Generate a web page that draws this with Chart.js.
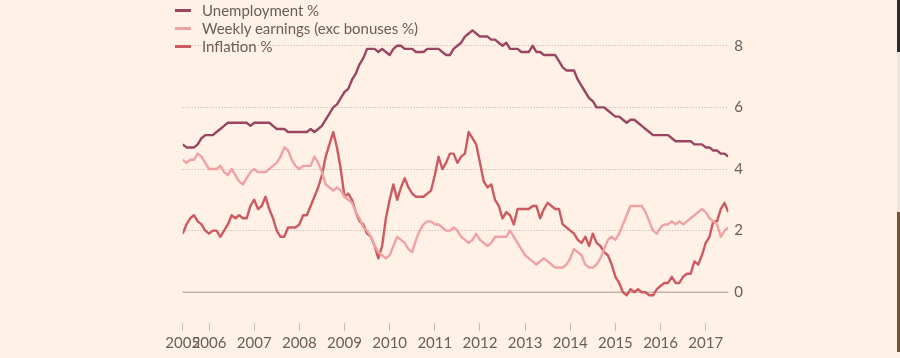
<!DOCTYPE html>
<html>
<head>
<meta charset="utf-8">
<script src="https://cdn.jsdelivr.net/npm/chart.js@4/dist/chart.umd.min.js"></script>
<style>
  html, body { margin:0; padding:0; background:#fff1e5; }
  #wrap { position:relative; width:900px; height:358px; background:#fff1e5; overflow:hidden; }
  #legend { position:absolute; left:175px; top:0; font-family:Lato, "Open Sans", sans-serif; font-size:15px; color:#66605c; }
  #legend div { position:absolute; left:0; white-space:nowrap; height:18px; line-height:18px; }
  #legend span.sw { position:absolute; left:0; top:8px; width:16px; height:3px; }
  #legend span.tx { position:absolute; left:27px; top:0; }
  .edge { position:absolute; left:897px; width:3px; }
</style>
</head>
<body>
<div id="wrap">
  <canvas id="ukChart" width="900" height="358"></canvas>
  <div id="legend"></div>
  <div class="edge" style="top:0;height:52px;background:#2e2a28"></div>
  <div class="edge" style="top:52px;height:160px;background:#efe6dd"></div>
  <div class="edge" style="top:212px;height:140px;background:#7a5535"></div>
</div>
<script>
// monthly, Jun 2005 - Jul 2017
var startYear = 2005, startMonth = 6;
var yearTicks = [2006, 2007, 2008, 2009, 2010, 2011, 2012, 2013, 2014, 2015, 2016, 2017];
var yTicks = [0, 2, 4, 6, 8];

var unemployment = [
  4.8, 4.7, 4.7, 4.7, 4.8, 5.0, 5.1, 5.1, 5.1, 5.2, 5.3, 5.4,
  5.5, 5.5, 5.5, 5.5, 5.5, 5.5, 5.4, 5.5, 5.5, 5.5, 5.5, 5.5,
  5.4, 5.3, 5.3, 5.3, 5.2, 5.2, 5.2, 5.2, 5.2, 5.2, 5.3, 5.2,
  5.3, 5.4, 5.6, 5.8, 6.0, 6.1, 6.3, 6.5, 6.6, 6.9, 7.1, 7.4,
  7.6, 7.9, 7.9, 7.9, 7.8, 7.9, 7.8, 7.7, 7.9, 8.0, 8.0, 7.9,
  7.9, 7.9, 7.8, 7.8, 7.8, 7.9, 7.9, 7.9, 7.9, 7.8, 7.7, 7.7,
  7.9, 8.0, 8.1, 8.3, 8.4, 8.5, 8.4, 8.3, 8.3, 8.3, 8.2, 8.2,
  8.1, 8.0, 8.1, 7.9, 7.9, 7.9, 7.8, 7.8, 7.8, 8.0, 7.8, 7.8,
  7.7, 7.7, 7.7, 7.7, 7.5, 7.3, 7.2, 7.2, 7.2, 6.9, 6.7, 6.5,
  6.3, 6.2, 6.0, 6.0, 6.0, 5.9, 5.8, 5.7, 5.7, 5.6, 5.5, 5.6,
  5.6, 5.5, 5.4, 5.3, 5.2, 5.1, 5.1, 5.1, 5.1, 5.1, 5.0, 4.9,
  4.9, 4.9, 4.9, 4.9, 4.8, 4.8, 4.8, 4.7, 4.7, 4.6, 4.6, 4.5,
  4.5, 4.4
];

var earnings = [
  4.3, 4.2, 4.3, 4.3, 4.5, 4.4, 4.2, 4.0, 4.0, 4.0, 4.1, 3.9,
  3.8, 4.0, 3.8, 3.6, 3.5, 3.7, 3.9, 4.0, 3.9, 3.9, 3.9, 4.0,
  4.1, 4.2, 4.4, 4.7, 4.6, 4.3, 4.1, 4.0, 4.1, 4.1, 4.1, 4.4,
  4.2, 3.9, 3.5, 3.4, 3.3, 3.4, 3.3, 3.1, 3.0, 2.9, 2.6, 2.4,
  2.1, 2.0, 1.8, 1.5, 1.3, 1.2, 1.1, 1.2, 1.5, 1.8, 1.7, 1.6,
  1.4, 1.3, 1.7, 2.0, 2.2, 2.3, 2.3, 2.2, 2.2, 2.1, 2.0, 2.0,
  2.1, 2.0, 1.8, 1.7, 1.6, 1.7, 1.9, 1.7, 1.6, 1.5, 1.6, 1.8,
  1.8, 1.8, 1.8, 2.0, 1.8, 1.6, 1.4, 1.2, 1.1, 1.0, 0.9, 1.0,
  1.1, 1.0, 0.9, 0.8, 0.8, 0.8, 0.9, 1.1, 1.4, 1.3, 1.2, 0.9,
  0.8, 0.8, 0.9, 1.1, 1.4, 1.7, 1.8, 1.7, 1.9, 2.2, 2.5, 2.8,
  2.8, 2.8, 2.8, 2.6, 2.3, 2.0, 1.9, 2.1, 2.2, 2.2, 2.3, 2.2,
  2.3, 2.2, 2.3, 2.4, 2.5, 2.6, 2.7, 2.6, 2.4, 2.3, 2.2, 1.8,
  2.0, 2.1
];

var inflation = [
  1.9, 2.2, 2.4, 2.5, 2.3, 2.2, 2.0, 1.9, 2.0, 2.0, 1.8, 2.0,
  2.2, 2.5, 2.4, 2.5, 2.4, 2.4, 2.8, 3.0, 2.7, 2.8, 3.1, 2.7,
  2.4, 2.0, 1.8, 1.8, 2.1, 2.1, 2.1, 2.2, 2.5, 2.5, 2.8, 3.1,
  3.4, 3.8, 4.4, 4.8, 5.2, 4.7, 4.0, 3.1, 3.2, 3.0, 2.6, 2.3,
  2.2, 1.9, 1.8, 1.5, 1.1, 1.5, 2.4, 3.0, 3.5, 3.0, 3.4, 3.7,
  3.4, 3.2, 3.1, 3.1, 3.1, 3.2, 3.3, 3.8, 4.4, 4.0, 4.2, 4.5,
  4.5, 4.2, 4.4, 4.5, 5.2, 5.0, 4.8, 4.2, 3.6, 3.4, 3.5, 3.0,
  2.8, 2.4, 2.6, 2.5, 2.2, 2.7, 2.7, 2.7, 2.7, 2.8, 2.8, 2.4,
  2.7, 2.9, 2.8, 2.7, 2.7, 2.2, 2.1, 2.0, 1.9, 1.7, 1.6, 1.8,
  1.5, 1.9, 1.6, 1.5, 1.3, 1.2, 0.9, 0.5, 0.3, 0.0, -0.1, 0.1,
  0.0, 0.1, 0.0, 0.0, -0.1, -0.1, 0.1, 0.2, 0.3, 0.3, 0.5, 0.3,
  0.3, 0.5, 0.6, 0.6, 1.0, 0.9, 1.2, 1.6, 1.8, 2.3, 2.3, 2.7,
  2.9, 2.6
];

var names = ['Unemployment %', 'Weekly earnings (exc bonuses %)', 'Inflation %'];
var colours = ['#9a4662', '#f0a2a2', '#cc5a60'];

// x positions as decimal years
function toPoints(vals) {
  return vals.map(function (v, i) {
    return { x: startYear + (startMonth - 1 + i) / 12, y: v };
  });
}
var xStart = startYear + (startMonth - 1) / 12;
var xEnd = xStart + (unemployment.length - 1) / 12;

// html legend
var legend = document.getElementById('legend');
names.forEach(function (n, i) {
  var row = document.createElement('div');
  row.style.top = (1 + i * 18) + 'px';
  row.innerHTML = '<span class="sw" style="background:' + colours[i] + '"></span><span class="tx">' + n + '</span>';
  legend.appendChild(row);
});

// solid zero line over the dotted grid
var zeroLine = {
  id: 'zeroLine',
  beforeDatasetsDraw: function (chart) {
    var y = chart.scales.y.getPixelForValue(0);
    var ctx = chart.ctx;
    ctx.save();
    ctx.strokeStyle = '#c4b3a5';
    ctx.lineWidth = 1.5;
    ctx.beginPath();
    ctx.moveTo(chart.chartArea.left, y);
    ctx.lineTo(chart.chartArea.right, y);
    ctx.stroke();
    ctx.restore();
  }
};

var ctx = document.getElementById('ukChart').getContext('2d');
var ukChart = new Chart(ctx, {
  type: 'line',
  data: {
    datasets: [
      { label: names[0], data: toPoints(unemployment), borderColor: colours[0] },
      { label: names[1], data: toPoints(earnings), borderColor: colours[1] },
      { label: names[2], data: toPoints(inflation), borderColor: colours[2] }
    ]
  },
  options: {
    responsive: false,
    animation: false,
    parsing: false,
    elements: {
      line: { borderWidth: 2.4, tension: 0, borderJoinStyle: 'round' },
      point: { radius: 0 }
    },
    layout: { padding: { left: 182.7, right: 131.7, top: 13, bottom: 0 } },
    plugins: {
      legend: { display: false },
      tooltip: { enabled: false }
    },
    scales: {
      x: {
        type: 'linear',
        min: xStart,
        max: xEnd,
        afterBuildTicks: function (scale) {
          scale.ticks = [{ value: xStart }].concat(yearTicks.map(function (y) { return { value: y }; }));
        },
        afterFit: function (scale) { scale.height = 35; },
        grid: { drawOnChartArea: false, drawTicks: true, tickLength: 8, color: '#c9beb4', lineWidth: 1 },
        border: { display: false },
        ticks: {
          autoSkip: false,
          maxRotation: 0,
          padding: 3,
          color: '#66605c',
          font: { family: 'Lato', size: 15 },
          callback: function (v) { return Math.floor(v); }
        }
      },
      y: {
        position: 'right',
        min: -1,
        max: 9,
        afterBuildTicks: function (scale) {
          scale.ticks = yTicks.map(function (v) { return { value: v }; });
        },
        afterFit: function (scale) { scale.width = 40; },
        grid: {
          drawTicks: false,
          color: function (c) { return c.tick && c.tick.value === 0 ? 'rgba(0,0,0,0)' : '#b9aca1'; },
          lineWidth: 1
        },
        border: { display: false, dash: [1, 2] },
        ticks: {
          padding: 6,
          color: '#66605c',
          font: { family: 'Lato', size: 15 }
        }
      }
    }
  },
  plugins: [zeroLine]
});
</script>
</body>
</html>
